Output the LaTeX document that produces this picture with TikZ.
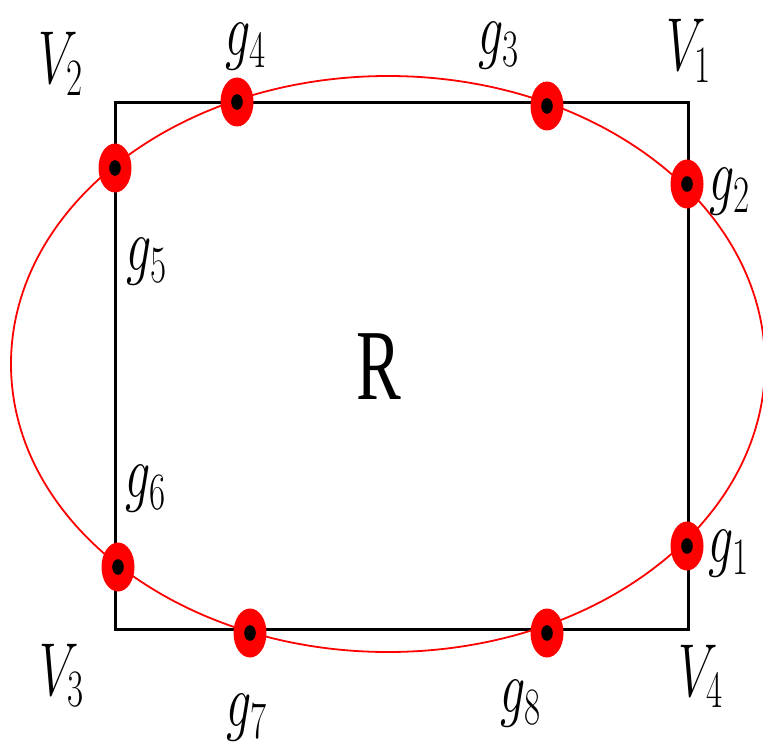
\RequirePackage{fix-cm}
\documentclass[tikz,border=0pt]{standalone}
\usepackage{graphicx}
\usepackage{fontspec}
\newfontfamily\rfont{Liberation Serif}
\usetikzlibrary{shapes.geometric}
\tikzset{
  lab/.style={inner sep=0pt, font=\fontsize{25}{30}\selectfont},
  gdot/.style={ellipse, fill=red, inner sep=0pt, minimum width=16.5pt, minimum height=24.5pt,
    path picture={\fill[black] (path picture bounding box.center) ellipse [x radius=2.9pt, y radius=3.9pt];}},
  rect/.style={draw=black, line width=1.5pt},
  orbit/.style={draw=red, line width=0.9pt}
}
\newcommand{\stretchy}[1]{\scalebox{1}[1.5]{#1}}
\begin{document}
\begin{tikzpicture}[x=0.5pt, y=-0.5pt]
\useasboundingbox (0,0) rectangle (763,743);
% region
\coordinate (c1) at (688,103);
\coordinate (c2) at (115,103);
\coordinate (c3) at (115,629);
\coordinate (c4) at (688,629);
\draw[rect] (c1) -- (c2) -- (c3) -- (c4) -- cycle;
% orbit
\coordinate (oc) at (388,364);
\draw[orbit] (oc) ellipse [x radius=377, y radius=288];
% points
\node[gdot] (p4) at (237,102) {};
\node[gdot] (p3) at (547,106) {};
\node[gdot] (p2) at (687,184) {};
\node[gdot] (p5) at (115,168) {};
\node[gdot] (p6) at (118,567) {};
\node[gdot] (p7) at (250,633) {};
\node[gdot] (p8) at (547,633) {};
\node[gdot] (p1) at (687,546) {};
% labels
\node[lab] (lV2) at (61,64) {\stretchy{$V_2$}};
\node[lab] (lV1) at (689,51) {\stretchy{$V_1$}};
\node[lab] (lV3) at (62,675) {\stretchy{$V_3$}};
\node[lab] (lV4) at (701,676) {\stretchy{$V_4$}};
\node[lab] (lg4) at (246,47) {\stretchy{$g_4$}};
\node[lab] (lg3) at (499,46) {\stretchy{$g_3$}};
\node[lab] (lg2) at (730,192) {\stretchy{$g_2$}};
\node[lab] (lg5) at (147,262) {\stretchy{$g_5$}};
\node[lab] (lg6) at (146,489) {\stretchy{$g_6$}};
\node[lab] (lg1) at (729,554) {\stretchy{$g_1$}};
\node[lab] (lg7) at (247,718) {\stretchy{$g_7$}};
\node[lab] (lg8) at (521,704) {\stretchy{$g_8$}};
\node[inner sep=0pt, font=\rfont\fontsize{33.5}{38}\selectfont] (lR) at (379,367) {\stretchy{R}};
\end{tikzpicture}
\end{document}
